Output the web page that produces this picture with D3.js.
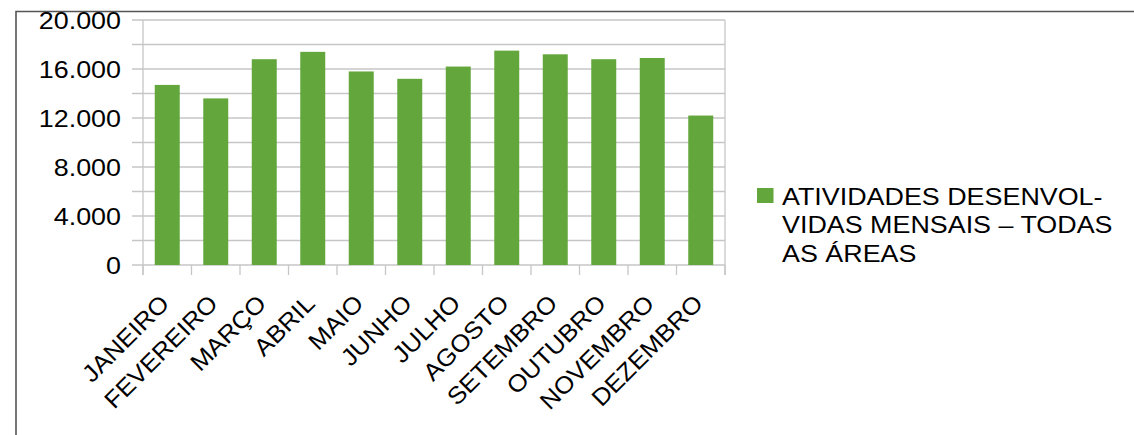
<!DOCTYPE html>
<html>
<head>
<meta charset="utf-8">
<script src="https://cdn.jsdelivr.net/npm/d3@7"></script>
<style>
  html, body { margin: 0; padding: 0; background: #fff; }
  svg { display: block; }
  text { font-family: "Liberation Sans", Arial, sans-serif; fill: #000; }
</style>
</head>
<body>
<svg id="chart" width="1134" height="435"></svg>
<script>
const months = ["JANEIRO","FEVEREIRO","MARÇO","ABRIL","MAIO","JUNHO","JULHO","AGOSTO","SETEMBRO","OUTUBRO","NOVEMBRO","DEZEMBRO"];
const values = [14700, 13600, 16800, 17400, 15800, 15200, 16200, 17500, 17200, 16800, 16900, 12200];
const yTickLabels = [0, 4000, 8000, 12000, 16000, 20000];
const gridValues = [0, 2000, 4000, 6000, 8000, 10000, 12000, 14000, 16000, 18000, 20000];
const legendLines = ["ATIVIDADES DESENVOL-", "VIDAS MENSAIS – TODAS", "AS ÁREAS"];

const svg = d3.select("#chart");
const W = 1134, H = 435;
const plot = { left: 143, right: 725, top: 20, bottom: 265 };
const stretch = 1.12;
const fontSize = 24;
const green = "#63a73c";
const gridColor = "#c6c6c6";

svg.append("rect").attr("width", W).attr("height", H).attr("fill", "#fff");

// outer frame (left and top)
svg.append("path")
  .attr("d", `M16,${H} V11.5 H${W}`)
  .attr("fill", "none").attr("stroke", "#555").attr("stroke-width", 1.6);

const y = d3.scaleLinear().domain([0, 20000]).range([plot.bottom, plot.top]);
const x = d3.scaleBand().domain(months).range([plot.left, plot.right])
  .paddingInner(0.485).paddingOuter(0.2425);

// horizontal gridlines with outward ticks
svg.append("g").selectAll("line").data(gridValues).join("line")
  .attr("x1", plot.left - 11).attr("x2", plot.right)
  .attr("y1", d => y(d)).attr("y2", d => y(d))
  .attr("stroke", gridColor).attr("stroke-width", 1.3);

// plot side borders
svg.append("line").attr("x1", plot.left).attr("x2", plot.left)
  .attr("y1", plot.top).attr("y2", plot.bottom + 10)
  .attr("stroke", gridColor).attr("stroke-width", 1.3);
svg.append("line").attr("x1", plot.right).attr("x2", plot.right)
  .attr("y1", plot.top).attr("y2", plot.bottom + 10)
  .attr("stroke", gridColor).attr("stroke-width", 1.3);

// category boundary ticks
const step = x.step();
const boundaries = d3.range(months.length + 1).map(i => plot.left + i * step);
svg.append("g").selectAll("line").data(boundaries).join("line")
  .attr("x1", d => d).attr("x2", d => d)
  .attr("y1", plot.bottom).attr("y2", plot.bottom + 10)
  .attr("stroke", gridColor).attr("stroke-width", 1.3);

// bars
svg.append("g").selectAll("rect").data(values).join("rect")
  .attr("x", (d, i) => x(months[i]))
  .attr("width", x.bandwidth())
  .attr("y", d => y(d))
  .attr("height", d => y(0) - y(d))
  .attr("fill", green);

// y labels
const fmt = d => d3.format(",")(d).replace(/,/g, ".");
svg.append("g").selectAll("text").data(yTickLabels).join("text")
  .attr("transform", d => `translate(121,${y(d) + 8.5}) scale(${stretch},1)`)
  .attr("text-anchor", "end")
  .attr("font-size", fontSize)
  .text(fmt);

// x labels
svg.append("g").selectAll("text").data(months).join("text")
  .attr("transform", d => `translate(${x(d) + x.bandwidth() / 2 + 3.5},305) rotate(-45) scale(1.07,1)`)
  .attr("text-anchor", "end")
  .attr("font-size", fontSize)
  .text(d => d);

// legend
svg.append("rect").attr("x", 757).attr("y", 188).attr("width", 16.5).attr("height", 15).attr("fill", green);
svg.append("g").selectAll("text").data(legendLines).join("text")
  .attr("transform", (d, i) => `translate(782,${205 + i * 28.4}) scale(${stretch},1)`)
  .attr("font-size", fontSize)
  .text(d => d);
</script>
</body>
</html>
